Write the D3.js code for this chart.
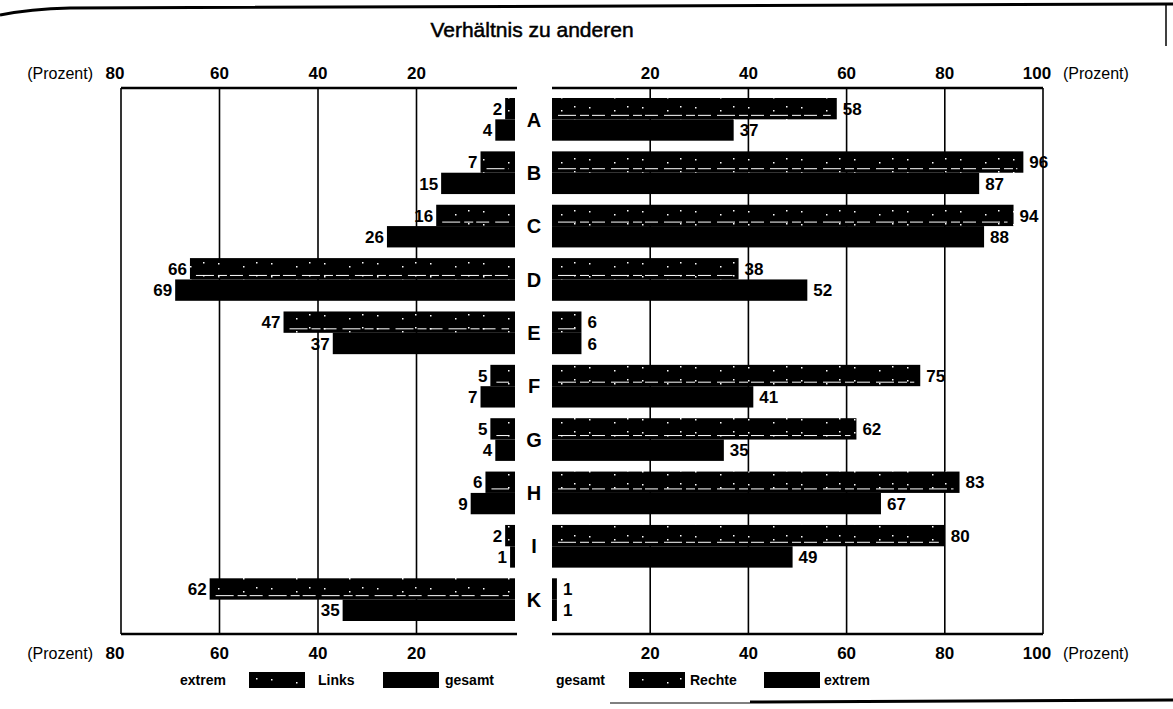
<!DOCTYPE html>
<html>
<head>
<meta charset="utf-8">
<script src="https://cdn.jsdelivr.net/npm/d3@7"></script>
<style>
  body { margin: 0; background: #fff; }
  svg { display: block; }
  text { font-family: "Liberation Sans", Arial, sans-serif; fill: #000; }
  .num { font-weight: bold; font-size: 17px; }
  .lbl { font-weight: bold; font-size: 17px; }
  .cat { font-weight: bold; font-size: 20px; }
  .unit { font-size: 16px; }
  .leg { font-weight: bold; font-size: 14px; }
</style>
</head>
<body>
<script>
// values (Prozent)
const categories = ["A", "B", "C", "D", "E", "F", "G", "H", "I", "K"];
const linksExtrem = [2, 7, 16, 66, 47, 5, 5, 6, 2, 62];
const linksGesamt = [4, 15, 26, 69, 37, 7, 4, 9, 1, 35];
const rechteGesamt = [58, 96, 94, 38, 6, 75, 62, 83, 80, 1];
const rechteExtrem = [37, 87, 88, 52, 6, 41, 35, 67, 49, 1];
const leftTicks = [80, 60, 40, 20];
const rightTicks = [20, 40, 60, 80, 100];

const width = 1173, height = 709;
const frameTop = 88, frameBottom = 634;

var svg = d3.select("body").append("svg").attr("width", width).attr("height", height);

// speckled black fill used for the upper bar of each pair
var defs = svg.append("defs");
var pat = defs.append("pattern").attr("id", "speck")
  .attr("patternUnits", "userSpaceOnUse").attr("width", 53).attr("height", 13);
pat.append("rect").attr("width", 53).attr("height", 13).attr("fill", "#000");
[[6, 3], [31, 6], [44, 2]].forEach(function (p) {
  pat.append("rect").attr("x", p[0]).attr("y", p[1]).attr("width", 1.5).attr("height", 1.5).attr("fill", "#fff");
});

var xLeft = d3.scaleLinear().domain([0, 80]).range([515, 121]);
var xRight = d3.scaleLinear().domain([0, 100]).range([552, 1043]);
var y = d3.scaleBand().domain(categories).range([98, 621]).paddingInner(0.2).paddingOuter(0);
var half = y.bandwidth() / 2;

// scan edges
svg.append("path").attr("d", "M0,15 Q30,9 70,8 L1173,4").attr("fill", "none").attr("stroke", "#000").attr("stroke-width", 3);
svg.append("line").attr("x1", 1166).attr("y1", 4).attr("x2", 1166).attr("y2", 46).attr("stroke", "#000").attr("stroke-width", 1.5);
svg.append("line").attr("x1", 610).attr("y1", 703).attr("x2", 750).attr("y2", 703).attr("stroke", "#000").attr("stroke-width", 1);
svg.append("line").attr("x1", 750).attr("y1", 702).attr("x2", 1173).attr("y2", 700).attr("stroke", "#000").attr("stroke-width", 3);

// title
svg.append("text").attr("x", 532).attr("y", 37).attr("text-anchor", "middle")
  .style("font-size", "21px").style("stroke", "#000").style("stroke-width", 0.5)
  .text("Verhältnis zu anderen");

// grid lines and frames
var grid = svg.append("g").attr("stroke", "#000").attr("stroke-width", 1.6);
leftTicks.forEach(function (t) {
  grid.append("line").attr("x1", xLeft(t)).attr("x2", xLeft(t)).attr("y1", frameTop).attr("y2", frameBottom);
});
rightTicks.forEach(function (t) {
  grid.append("line").attr("x1", xRight(t)).attr("x2", xRight(t)).attr("y1", frameTop).attr("y2", frameBottom);
});
[frameTop, frameBottom].forEach(function (yy) {
  grid.append("line").attr("x1", xLeft(80)).attr("x2", xLeft(0) + 2).attr("y1", yy).attr("y2", yy).attr("stroke-width", 2.5);
  grid.append("line").attr("x1", xRight(0)).attr("x2", xRight(100)).attr("y1", yy).attr("y2", yy).attr("stroke-width", 2.5);
});

// axis labels top and bottom
function axisLabels(yy) {
  leftTicks.forEach(function (t) {
    svg.append("text").attr("class", "num").attr("x", xLeft(t) - (t === 80 ? 6 : 0)).attr("y", yy).attr("text-anchor", "middle").text(t);
  });
  rightTicks.forEach(function (t) {
    svg.append("text").attr("class", "num").attr("x", xRight(t) - (t === 100 ? 6 : 0)).attr("y", yy).attr("text-anchor", "middle").text(t);
  });
  svg.append("text").attr("class", "unit").attr("x", xLeft(80) - 28).attr("y", yy).attr("text-anchor", "end").text("(Prozent)");
  svg.append("text").attr("class", "unit").attr("x", xRight(100) + 20).attr("y", yy).text("(Prozent)");
}
axisLabels(79);
axisLabels(659);

/**
 * draws one bar, textured or solid, with its value label
 */
function bar(side, value, cat, upper) {
  var x = side === "left" ? xLeft : xRight;
  var y0 = y(cat) + (upper ? 0 : half);
  var x0 = Math.min(x(0), x(value)), w = Math.abs(x(value) - x(0));
  svg.append("rect").attr("x", x0).attr("y", y0).attr("width", w).attr("height", half)
    .attr("fill", upper ? "url(#speck)" : "#000");
  if (upper && w > 14) {
    svg.append("line").attr("x1", x0 + 6).attr("x2", x0 + w - 6)
      .attr("y1", y0 + half - 4).attr("y2", y0 + half - 4)
      .attr("stroke", "#fff").attr("stroke-width", 1).attr("stroke-dasharray", "18 4 9 3 13 6");
  }
  var tx = side === "left" ? x(value) - 3 : x(value) + 6;
  svg.append("text").attr("class", "lbl").attr("x", tx).attr("y", y0 + half / 2)
    .attr("dy", "0.36em").attr("text-anchor", side === "left" ? "end" : "start").text(value);
}

categories.forEach(function (c, i) {
  bar("left", linksExtrem[i], c, true);
  bar("left", linksGesamt[i], c, false);
  bar("right", rechteGesamt[i], c, true);
  bar("right", rechteExtrem[i], c, false);
  svg.append("text").attr("class", "cat").attr("x", 534).attr("y", y(c) + half)
    .attr("dy", "0.36em").attr("text-anchor", "middle").text(c);
});

// legend
function swatch(x, textured) {
  svg.append("rect").attr("x", x).attr("y", 672).attr("width", 56).attr("height", 16)
    .attr("fill", textured ? "url(#speck)" : "#000");
}
var legY = 685;
svg.append("text").attr("class", "leg").attr("x", 180).attr("y", legY).text("extrem");
swatch(249, true);
svg.append("text").attr("class", "leg").attr("x", 318).attr("y", legY).text("Links");
swatch(383, false);
svg.append("text").attr("class", "leg").attr("x", 445).attr("y", legY).text("gesamt");
svg.append("text").attr("class", "leg").attr("x", 556).attr("y", legY).text("gesamt");
swatch(629, true);
svg.append("text").attr("class", "leg").attr("x", 690).attr("y", legY).text("Rechte");
swatch(764, false);
svg.append("text").attr("class", "leg").attr("x", 824).attr("y", legY).text("extrem");
</script>
</body>
</html>
